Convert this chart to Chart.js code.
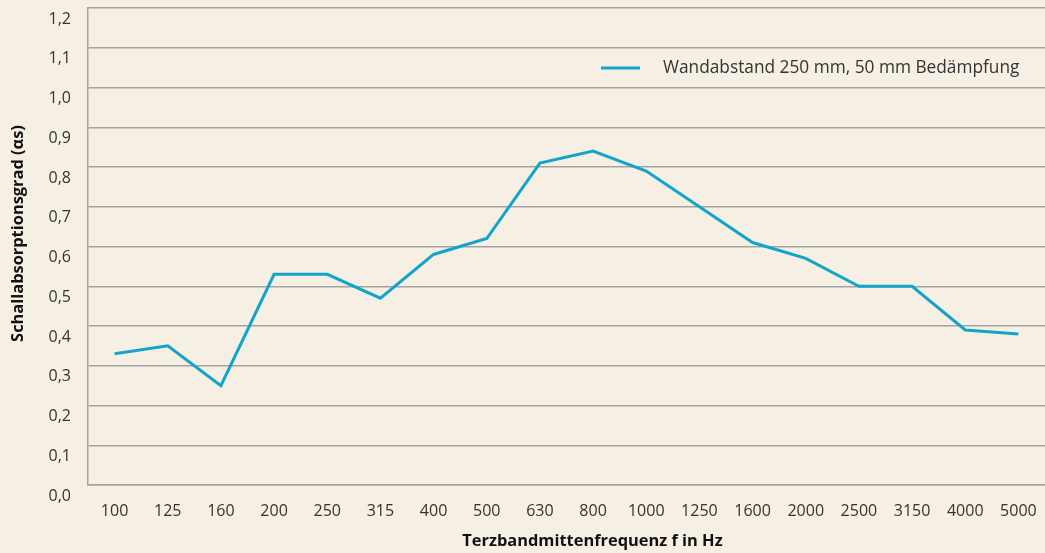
<!DOCTYPE html>
<html>
<head>
<meta charset="utf-8">
<title>Schallabsorptionsgrad</title>
<script src="https://cdn.jsdelivr.net/npm/chart.js@4"></script>
<style>
    html, body { margin: 0; padding: 0; background: #f6efe4; }
    #wrap { width: 1045px; height: 553px; position: relative; }
</style>
</head>
<body>
<div id="wrap"><canvas id="absorptionChart"></canvas></div>
<script>
// --- Daten
var frequencies = ['100', '125', '160', '200', '250', '315', '400', '500', '630', '800',
    '1000', '1250', '1600', '2000', '2500', '3150', '4000', '5000'];
var absorption = [0.33, 0.35, 0.25, 0.53, 0.53, 0.47, 0.58, 0.62, 0.81, 0.84,
    0.79, 0.70, 0.61, 0.57, 0.50, 0.50, 0.39, 0.38];
var yTickLabels = ['0,0', '0,1', '0,2', '0,3', '0,4', '0,5', '0,6', '0,7', '0,8', '0,9', '1,0', '1,1', '1,2'];
var seriesLabel = 'Wandabstand 250 mm, 50 mm Bedämpfung';
var xTitle = 'Terzbandmittenfrequenz f in Hz';
var yTitle = 'Schallabsorptionsgrad (αs)';

var lineColor = '#13a5c9';
var gridColor = '#a3a3a3';
var textColor = '#333333';
var fontFamily = '"Open Sans", "Liberation Sans", sans-serif';

// legend inside the plot area (top right) + axis titles, a bit off-centre like the original
var extras = {
    id: 'extras',
    afterDraw: function (chart) {
        var ctx = chart.ctx;
        var area = chart.chartArea;
        var ds = chart.data.datasets[0];
        var x = area.right - 444;
        var y = area.top + 60;
        ctx.save();
        ctx.strokeStyle = ds.borderColor;
        ctx.lineWidth = 3;
        ctx.beginPath();
        ctx.moveTo(x, y);
        ctx.lineTo(x + 39, y);
        ctx.stroke();
        ctx.fillStyle = textColor;
        ctx.font = '17.3px ' + fontFamily;
        ctx.textBaseline = 'middle';
        ctx.fillText(ds.label, x + 62, y);

        // axis titles
        ctx.fillStyle = '#111111';
        ctx.font = 'bold 16.4px ' + fontFamily;
        ctx.textAlign = 'center';
        ctx.fillText(xTitle, (area.left + area.right) / 2 + 26, chart.height - 12);
        ctx.translate(18, (area.top + area.bottom) / 2 - 13);
        ctx.rotate(-Math.PI / 2);
        ctx.fillText(yTitle, 0, 0);
        ctx.restore();
    }
};

var ctx = document.getElementById('absorptionChart');
new Chart(ctx, {
    type: 'line',
    data: {
        labels: frequencies,
        datasets: [{
            label: seriesLabel,
            data: absorption,
            borderColor: lineColor,
            backgroundColor: lineColor,
            borderWidth: 3,
            pointRadius: 0,
            tension: 0
        }]
    },
    options: {
        responsive: true,
        maintainAspectRatio: false,
        animation: false,
        layout: { padding: { top: 8, right: 0, left: 0, bottom: 0 } },
        plugins: {
            legend: { display: false },
            tooltip: { enabled: false }
        },
        scales: {
            x: {
                offset: true,
                grid: { display: false, drawTicks: false },
                border: { display: true, color: gridColor, width: 1.5 },
                ticks: {
                    color: textColor,
                    font: { family: fontFamily, size: 16 },
                    padding: 17,
                    maxRotation: 0,
                    autoSkip: false
                },
                afterFit: function (scale) {
                    scale.height = 68;
                    scale.paddingLeft = 0;
                    scale.paddingRight = 0;
                }
            },
            y: {
                min: 0,
                max: 1.2,
                grid: { color: gridColor, lineWidth: 1.5, drawTicks: false },
                border: { display: true, color: gridColor, width: 1.5 },
                ticks: {
                    stepSize: 0.1,
                    color: textColor,
                    font: { family: fontFamily, size: 16 },
                    padding: 17,
                    labelOffset: 11,
                    callback: function (value, index) { return yTickLabels[index]; }
                },
                afterFit: function (scale) {
                    scale.width = 88;
                    scale.paddingTop = 0;
                    scale.paddingBottom = 0;
                }
            }
        }
    },
    plugins: [extras]
});
</script>
</body>
</html>
